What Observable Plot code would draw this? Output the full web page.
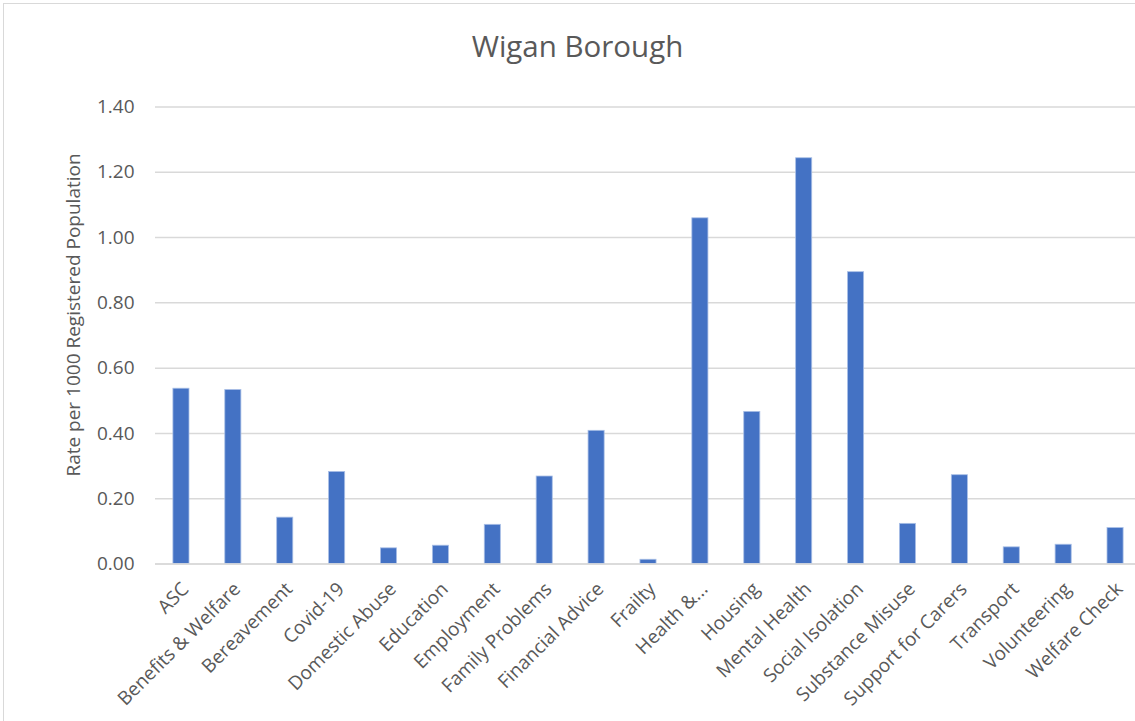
<!DOCTYPE html>
<html>
<head>
<meta charset="utf-8">
<script src="https://cdn.jsdelivr.net/npm/d3@7"></script>
<script src="https://cdn.jsdelivr.net/npm/@observablehq/plot@0.6"></script>
<style>
  html, body { margin: 0; padding: 0; background: #fff; }
  #wrap { position: relative; width: 1135px; height: 721px; overflow: hidden; font-family: "Open Sans", sans-serif; }
  #frame { position: absolute; left: 3px; top: 3px; width: 1140px; height: 730px; border: 1px solid #d9d9d9; box-sizing: border-box; pointer-events: none; }
  #title { position: absolute; left: 0; width: 1155px; top: 25px; text-align: center; font-size: 29.5px; color: #595959; }
  #ylabel { position: absolute; left: 73px; top: 315px; transform: translate(-50%, -50%) rotate(-90deg); white-space: nowrap; font-size: 19px; color: #595959; }
  #chart { position: absolute; left: 0; top: 0; }
  #chart svg { max-width: none !important; }
</style>
</head>
<body>
<div id="wrap">
  <div id="frame"></div>
  <div id="chart"></div>
  <div id="title">Wigan Borough</div>
  <div id="ylabel">Rate per 1000 Registered Population</div>
</div>
<script>
const categories = ["ASC", "Benefits & Welfare", "Bereavement", "Covid-19", "Domestic Abuse", "Education", "Employment", "Family Problems", "Financial Advice", "Frailty", "Health &...", "Housing", "Mental Health", "Social Isolation", "Substance Misuse", "Support for Carers", "Transport", "Volunteering", "Welfare Check"];
const rates = [0.537, 0.533, 0.142, 0.282, 0.048, 0.056, 0.120, 0.268, 0.408, 0.013, 1.059, 0.466, 1.243, 0.894, 0.123, 0.272, 0.051, 0.059, 0.110];
const yTicks = [0, 0.2, 0.4, 0.6, 0.8, 1.0, 1.2, 1.4];

const data = categories.map((c, i) => ({category: c, rate: rates[i]}));

const chart = Plot.plot({
  width: 1141,
  height: 721,
  marginTop: 106.5,
  marginBottom: 157.5,
  marginLeft: 155,
  marginRight: 0,
  style: {fontFamily: "'Open Sans', sans-serif", fontSize: "19px", color: "#595959", background: "transparent", overflow: "visible", maxWidth: "none"},
  x: {domain: categories, paddingInner: 0.69, paddingOuter: 0.345, round: false, label: null},
  y: {domain: [0, 1.4], ticks: yTicks, label: null},
  marks: [
    Plot.gridY(yTicks, {stroke: "#d9d9d9", strokeOpacity: 1, strokeWidth: 1.5}),
    Plot.barY(data, {x: "category", y: "rate", fill: "#4472c4", stroke: "#a9bfe6", strokeWidth: 0.8}),
    Plot.ruleY([0], {stroke: "#d9d9d9", strokeWidth: 1.5}),
    Plot.axisY(yTicks, {tickSize: 0, tickPadding: 21, tickFormat: d => d.toFixed(2), fontSize: 19, fill: "#595959", label: null}),
    Plot.axisX({tickSize: 0, tickPadding: 22, dx: 4, tickRotate: -45, fontSize: 19, fill: "#595959", label: null})
  ]
});
document.getElementById("chart").appendChild(chart);
</script>
</body>
</html>
